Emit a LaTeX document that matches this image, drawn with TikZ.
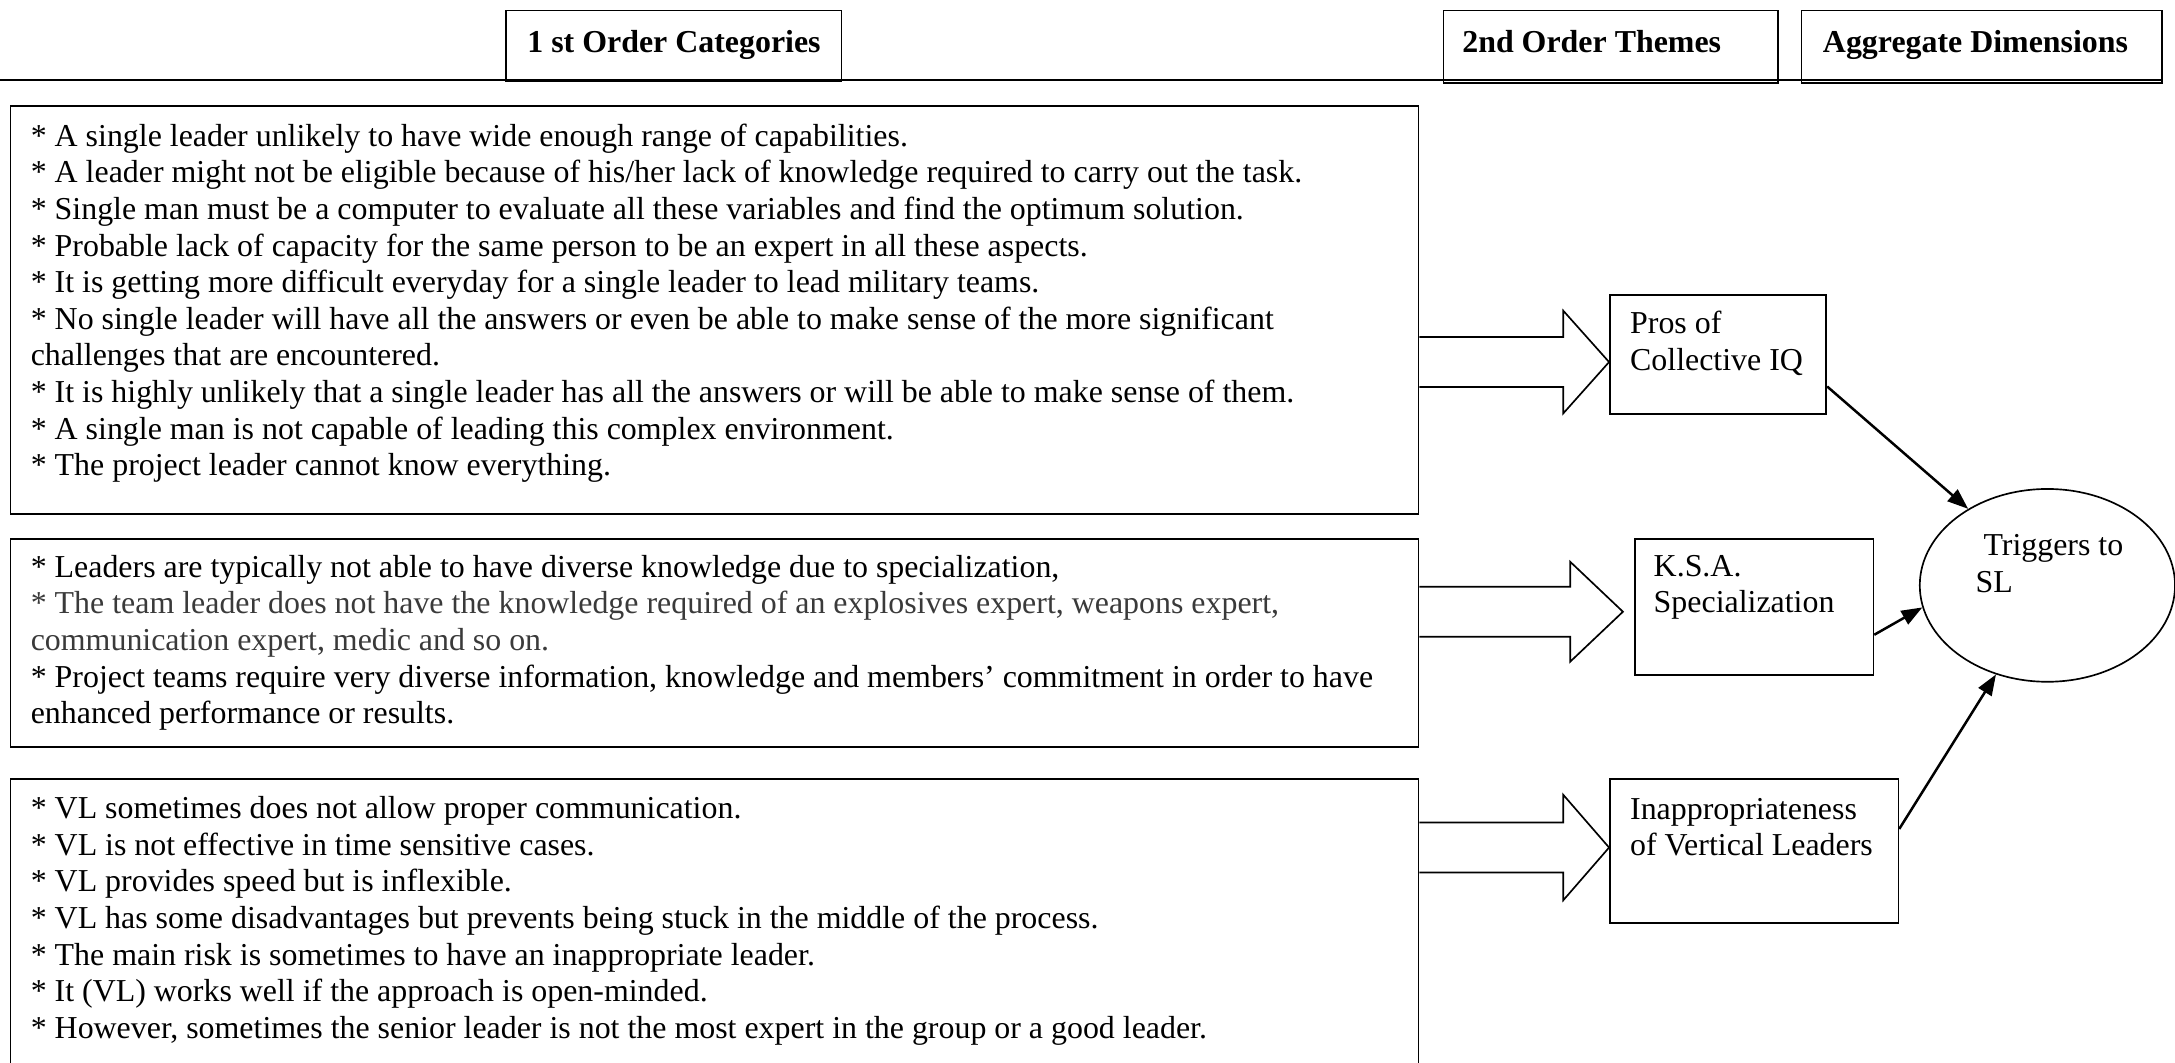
\documentclass[tikz,border=0pt]{standalone}
\usepackage{fontspec}
\setmainfont{Liberation Serif}
\usetikzlibrary{shapes.geometric,arrows.meta,calc}
\definecolor{softtext}{HTML}{3A3A3A}
\begin{document}
\begin{tikzpicture}[x=1pt,y=-1pt,
  every node/.style={font=\fontsize{23}{26.4}\selectfont},
  frame/.style={draw,line width=1.2pt,anchor=north west,inner sep=0pt},
  head/.style={draw,line width=1.2pt,anchor=north west,inner sep=0pt},
  headtext/.style={anchor=base west,inner sep=0pt,font=\fontsize{23}{26.4}\selectfont\bfseries},
  body/.style={anchor=north west,inner sep=0pt,align=left},
  blockarrow/.style={draw,line width=1.2pt,line join=miter},
  link/.style={draw,line width=1.8pt,-{Triangle[length=15pt,width=11pt]}}]
\useasboundingbox (0,0) rectangle (1568,766);

% heading bar
\draw[line width=1.4pt] (0,57.5) -- (1558,57.5);
\node[head,minimum width=242,minimum height=51] (h1) at (364,7) {};
\node[headtext] (h1t) at ($(h1.north west)+(16,31)$) {1 st Order Categories};
\node[head,minimum width=241,minimum height=52] (h2) at (1040,7) {};
\node[headtext] (h2t) at ($(h2.north west)+(14,31)$) {2nd Order Themes};
\node[head,minimum width=260,minimum height=52] (h3) at (1298,7) {};
\node[headtext] (h3t) at ($(h3.north west)+(16,31)$) {Aggregate Dimensions};

% first-order category boxes
\node[frame,minimum width=1015,minimum height=294] (b1) at (7,76) {};
\node[body] (t1) at (22,89) {%
* A single leader unlikely to have wide enough range of capabilities.\\
* A leader might not be eligible because of his/her lack of knowledge required to carry out the task.\\
* Single man must be a computer to evaluate all these variables and find the optimum solution.\\
* Probable lack of capacity for the same person to be an expert in all these aspects.\\
* It is getting more difficult everyday for a single leader to lead military teams.\\
* No single leader will have all the answers or even be able to make sense of the more significant\\
challenges that are encountered.\\
* It is highly unlikely that a single leader has all the answers or will be able to make sense of them.\\
* A single man is not capable of leading this complex environment.\\
* The project leader cannot know everything.};

\node[frame,minimum width=1015,minimum height=150] (b2) at (7,388) {};
\node[body] (t2) at (22,400) {%
* Leaders are typically not able to have diverse knowledge due to specialization,\\
\textcolor{softtext}{* The team leader does not have the knowledge required of an explosives expert, weapons expert,}\\
\textcolor{softtext}{communication expert, medic and so on.}\\
* Project teams require very diverse information, knowledge and members' commitment in order to have\\
enhanced performance or results.};

\node[frame,minimum width=1015,minimum height=220] (b3) at (7,561) {};
\node[body] (t3) at (22,574) {%
* VL sometimes does not allow proper communication.\\
* VL is not effective in time sensitive cases.\\
* VL provides speed but is inflexible.\\
* VL has some disadvantages but prevents being stuck in the middle of the process.\\
* The main risk is sometimes to have an inappropriate leader.\\
* It (VL) works well if the approach is open-minded.\\
* However, sometimes the senior leader is not the most expert in the group or a good leader.};

% second-order themes
\node[frame,minimum width=156,minimum height=86] (pros) at (1160,212) {};
\node[body] (prost) at (1175,224) {Pros of\\Collective IQ};
\node[frame,minimum width=172,minimum height=98] (ksa) at (1178,388) {};
\node[body] (ksat) at (1192,400) {K.S.A.\\Specialization};
\node[frame,minimum width=208,minimum height=104] (inap) at (1160,561) {};
\node[body] (inapt) at (1175,575) {Inappropriateness\\of Vertical Leaders};

% aggregate dimension
\node[draw,ellipse,line width=1.2pt,minimum width=184,minimum height=139,inner sep=0pt] (trig) at (1476,422) {};
\node[body] (trigt) at (1424,385) {\ Triggers to\\SL};

% block arrows from categories to themes
\draw[blockarrow] (b1.east |- 0,243) -- (1127,243) -- (1127,224) -- (pros.west |- 0,261)
  -- (1127,298) -- (1127,279) -- (b1.east |- 0,279);
\draw[blockarrow] (b2.east |- 0,423) -- (1132,423) -- (1132,405) -- (1170,441)
  -- (1132,477) -- (1132,459) -- (b2.east |- 0,459);
\draw[blockarrow] (b3.east |- 0,593) -- (1127,593) -- (1127,573) -- (inap.west |- 0,611)
  -- (1127,649) -- (1127,629) -- (b3.east |- 0,629);

% links from themes to the aggregate dimension
\draw[link] ($(pros.east)+(0,23)$) -- (trig.136);
\draw[link] ($(ksa.east)+(0,20)$) -- (trig.190);
\draw[link] ($(inap.east)+(0,-16)$) -- (trig.240);
\end{tikzpicture}
\end{document}
